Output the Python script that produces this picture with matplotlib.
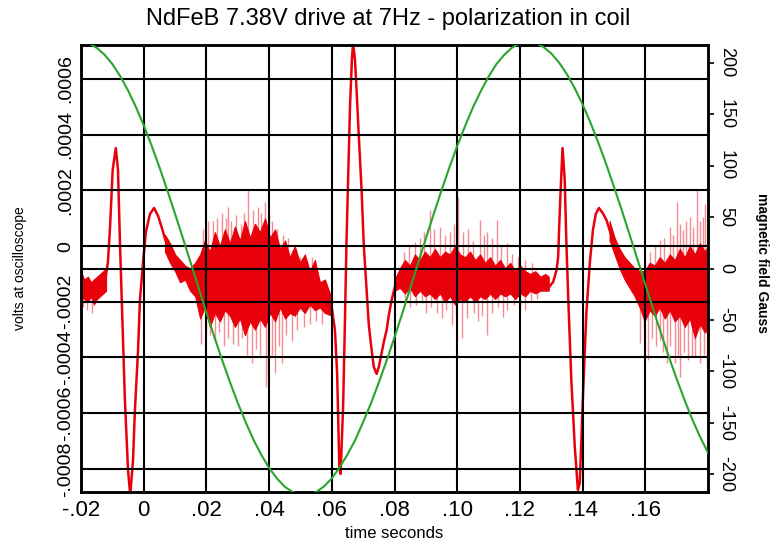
import matplotlib
matplotlib.use("Agg")
import matplotlib.pyplot as plt
from matplotlib import font_manager
import numpy as np

# ==================== DATA ====================

# red trace: coil voltage (V) vs time (s), main line
t_trace = [-0.0200, -0.0184, -0.0168, -0.0152, -0.0136, -0.0123, -0.0114, -0.0107,
           -0.0099, -0.0089, -0.0082, -0.0076, -0.0069, -0.0060, -0.0050, -0.0043,
           -0.0034, -0.0028, -0.0018, -0.0012, -0.0002, 0.0007, 0.0020, 0.0033,
           0.0046, 0.0058, 0.0071, 0.0084, 0.0100, 0.0116, 0.0135, 0.0154, 0.0173,
           0.0211, 0.0243, 0.0275, 0.0307, 0.0339, 0.0371, 0.0403, 0.0435, 0.0466,
           0.0498, 0.0530, 0.0562, 0.0588,
           0.0600, 0.0610, 0.0617, 0.0624, 0.0628, 0.0636, 0.0642, 0.0647, 0.0658,
           0.0664, 0.0668, 0.0674, 0.0679, 0.0686, 0.0695, 0.0702, 0.0711, 0.0718,
           0.0727, 0.0734, 0.0743, 0.0750, 0.0759, 0.0766, 0.0775, 0.0782, 0.0791,
           0.0801, 0.0812,
           0.0833, 0.0865, 0.0890, 0.0945, 0.0999, 0.1050, 0.1104, 0.1158, 0.1209,
           0.1263,
           0.1285, 0.1306, 0.1317, 0.1322, 0.1325, 0.1329, 0.1336, 0.1343, 0.1348,
           0.1354, 0.1364, 0.1375, 0.1385, 0.1391, 0.1401, 0.1412, 0.1423, 0.1433,
           0.1442, 0.1452, 0.1464, 0.1476, 0.1486, 0.1497, 0.1518, 0.1540, 0.1561,
           0.1582, 0.1598,
           0.1636, 0.1678, 0.1719, 0.1764, 0.1800]
v_trace = [-0.000132, -0.000165, -0.000179, -0.000158, -0.000143, -0.000122, -0.000057, 0.000076,
           0.000273, 0.000352, 0.000273, 0.000022, -0.000229, -0.000552, -0.000804, -0.000894,
           -0.000768, -0.000588, -0.000373, -0.000193, -0.000057, 0.000051, 0.000115, 0.000137,
           0.000108, 0.000065, 0.000015, -0.000021, -0.000057, -0.000086, -0.000107, -0.000122, -0.000140,
           -0.000140, -0.000122, -0.000107, -0.000115, -0.000132, -0.000107, -0.000104, -0.000115, -0.000147,
           -0.000152, -0.000154, -0.000185, -0.000210,
           -0.000222, -0.000301, -0.000456, -0.000793, -0.000818, -0.000578, -0.000265, 0.000022, 0.000499,
           0.000668, 0.000730, 0.000668, 0.000560, 0.000399, 0.000201, 0.000004, -0.000158, -0.000283,
           -0.000373, -0.000434, -0.000459, -0.000434, -0.000384, -0.000344, -0.000301, -0.000247, -0.000193,
           -0.000147, -0.000122,
           -0.000100, -0.000104, -0.000097, -0.000104, -0.000104, -0.000115, -0.000122, -0.000122, -0.000133,
           -0.000140,
           -0.000158, -0.000129, -0.000086, -0.000039, 0.000058, 0.000176, 0.000352, 0.000237, 0.000022,
           -0.000182, -0.000480, -0.000720, -0.000875, -0.000850, -0.000542, -0.000240, -0.000061, 0.000058,
           0.000115, 0.000137, 0.000119, 0.000094, 0.000058, 0.000022, -0.000043, -0.000086, -0.000122,
           -0.000165, -0.000180,
           -0.000147, -0.000147, -0.000147, -0.000165, -0.000158]

# noise bands: lower / upper edge of the dense noise, in units of 1e-4 V
noise_a_t = [-0.0200, -0.0190, -0.0178, -0.0168, -0.0159, -0.0149, -0.0139, -0.0129, -0.0120]
noise_a_lo = [-1.8, -1.9, -2.0, -1.8, -2.1, -1.9, -1.8, -1.7, -1.6]
noise_a_hi = [-0.9, -1.2, -1.1, -1.3, -1.2, -1.1, -1.0, -0.9, -0.8]

noise_b_t = [0.0068, 0.0084, 0.0100, 0.0116, 0.0132, 0.0148, 0.0164, 0.0180, 0.0195,
             0.0211, 0.0227, 0.0243, 0.0259, 0.0275, 0.0291, 0.0307, 0.0323, 0.0339,
             0.0355, 0.0371, 0.0387, 0.0403, 0.0419, 0.0435, 0.0451, 0.0466, 0.0482,
             0.0498, 0.0514, 0.0530, 0.0546, 0.0562, 0.0578, 0.0600]
noise_b_lo = [-0.2, -0.6, -0.9, -1.3, -1.2, -1.6, -1.8, -2.6, -2.2, -2.9, -2.4, -2.7,
              -2.3, -2.5, -2.9, -2.6, -3.2, -2.7, -3.0, -2.6, -2.9, -2.4, -2.7, -2.2,
              -2.6, -2.4, -2.5, -2.2, -2.4, -2.1, -2.3, -2.2, -2.4, -2.5]
noise_b_hi = [0.4, 0.1, -0.3, -0.5, -0.7, -0.8, -0.6, -0.3, 0.2, -0.2, 0.5, 0.0,
              0.6, 0.1, 0.7, 0.2, 0.9, 0.3, 0.8, 0.5, 1.0, 0.3, 0.6, -0.1,
              0.2, -0.4, 0.0, -0.6, -0.3, -0.9, -0.5, -1.3, -1.2, -1.9]

noise_d_t = [0.0801, 0.0817, 0.0833, 0.0849, 0.0865, 0.0881, 0.0897, 0.0913, 0.0929,
             0.0945, 0.0961, 0.0977, 0.0993, 0.1009, 0.1025, 0.1041, 0.1057, 0.1073,
             0.1089, 0.1105, 0.1121, 0.1137, 0.1153, 0.1169, 0.1185, 0.1201, 0.1217,
             0.1233, 0.1249, 0.1265, 0.1281, 0.1292]
noise_d_lo = [-1.6, -1.5, -1.7, -1.5, -1.8, -1.6, -1.8, -1.7, -1.9, -1.7, -2.0, -1.8,
              -2.1, -1.9, -2.0, -1.8, -2.0, -1.8, -1.9, -1.7, -1.9, -1.7, -1.8, -1.7,
              -1.9, -1.7, -1.8, -1.6, -1.7, -1.6, -1.6, -1.6]
noise_d_hi = [-1.2, -0.8, -0.5, -0.7, -0.3, -0.5, -0.2, -0.4, -0.1, -0.4, -0.2, -0.3,
              0.0, -0.3, -0.4, -0.2, -0.5, -0.3, -0.6, -0.4, -0.7, -0.5, -0.8, -0.6,
              -0.9, -0.7, -0.9, -1.0, -0.9, -1.1, -1.0, -1.1]

noise_f_t = [0.1486, 0.1502, 0.1518, 0.1534, 0.1550, 0.1566, 0.1582, 0.1598, 0.1614,
             0.1630, 0.1646, 0.1662, 0.1678, 0.1694, 0.1710, 0.1726, 0.1742, 0.1758,
             0.1774, 0.1790, 0.1800]
noise_f_lo = [0.2, -0.3, -0.8, -1.2, -1.5, -1.8, -2.2, -2.7, -2.3, -2.5, -2.2, -2.6,
              -2.3, -2.7, -2.5, -2.9, -2.6, -3.3, -2.8, -3.1, -3.0]
noise_f_hi = [0.9, 0.3, -0.1, -0.4, -0.6, -0.8, -0.9, -0.9, -0.6, -0.7, -0.4, -0.6,
              -0.3, -0.5, -0.1, -0.4, 0.0, -0.3, 0.1, -0.2, 0.0]

# single noise spikes: time (s) and tip voltage (1e-4 V)
spike_t = [-0.0195, -0.0180, -0.0165,
           0.0190, 0.0205, 0.0220, 0.0235, 0.0250, 0.0262, 0.0269, 0.0280, 0.0296,
           0.0310, 0.0320, 0.0332, 0.0350, 0.0364, 0.0375, 0.0387, 0.0400, 0.0410,
           0.0425, 0.0445, 0.0460, 0.0482, 0.0500, 0.0520, 0.0536, 0.0550,
           0.0183, 0.0198, 0.0213, 0.0227, 0.0240, 0.0255, 0.0270, 0.0285, 0.0301,
           0.0315, 0.0330, 0.0345, 0.0358, 0.0370, 0.0389, 0.0396, 0.0410, 0.0419,
           0.0430, 0.0441, 0.0455, 0.0473, 0.0490, 0.0510, 0.0530, 0.0550, 0.0568,
           0.0830, 0.0845, 0.0865, 0.0880, 0.0895, 0.0913, 0.0925, 0.0945, 0.0960,
           0.0976, 0.0990, 0.1002, 0.1020, 0.1035, 0.1050, 0.1072, 0.1085, 0.1094,
           0.1110, 0.1126, 0.1140, 0.1158, 0.1175, 0.1195, 0.1215, 0.1240,
           0.0835, 0.0850, 0.0870, 0.0887, 0.0900, 0.0915, 0.0935, 0.0950, 0.0965,
           0.0983, 0.0995, 0.1015, 0.1030, 0.1052, 0.1065, 0.1080, 0.1096, 0.1110,
           0.1130, 0.1145, 0.1160, 0.1180, 0.1200, 0.1215, 0.1235, 0.1255,
           0.1600, 0.1615, 0.1630, 0.1646, 0.1660, 0.1678, 0.1688, 0.1700, 0.1712,
           0.1719, 0.1730, 0.1742, 0.1752, 0.1764, 0.1775, 0.1783, 0.1792,
           0.1582, 0.1595, 0.1608, 0.1620, 0.1635, 0.1648, 0.1658, 0.1668, 0.1680,
           0.1694, 0.1703, 0.1710, 0.1722, 0.1735, 0.1748, 0.1760, 0.1774, 0.1788, 0.1797]
spike_v = [-2.2, -2.3, -2.4,
           0.6, 0.9, 0.9, 1.0, 1.2, 1.0, 1.4, 0.9, 1.1,
           0.8, 1.2, 2.0, 1.3, 1.4, 1.2, 1.6, 1.1, 0.9,
           0.6, 0.4, 0.3, -0.25, -0.4, -0.6, -0.4, -0.8,
           -3.5, -3.0, -3.2, -3.4, -3.1, -3.6, -3.3, -3.5, -3.6,
           -3.3, -3.9, -4.2, -3.7, -3.9, -5.05, -4.56, -3.9, -4.56,
           -3.6, -4.2, -3.2, -3.4, -3.0, -2.9, -2.8, -2.7, -2.8,
           -0.2, 0.0, 0.15, 0.3, 0.5, 1.3, 0.6, 0.7, 0.4,
           0.5, 0.8, 1.76, 0.5, 0.6, 0.2, 0.94, 0.4, 0.5,
           0.3, 0.94, 0.0, 0.1, -0.3, -0.4, -0.5, -0.6,
           -2.0, -2.2, -2.1, -2.04, -2.4, -2.2, -2.4, -2.6, -2.3,
           -2.83, -2.5, -3.3, -2.6, -2.4, -2.7, -2.5, -3.2, -2.4,
           -2.2, -2.55, -2.3, -2.1, -2.3, -2.3, -2.0, -1.9,
           -0.5, -0.2, 0.0, 0.22, 0.3, 0.69, 0.4, 1.58, 0.8,
           0.58, 0.9, 1.04, 0.7, 2.01, 0.9, 1.04, 1.5,
           -3.48, -3.0, -4.09, -3.3, -3.6, -3.37, -3.8, -4.2, -3.6,
           -4.2, -3.9, -4.7, -3.8, -4.09, -3.9, -4.0, -4.2, -3.9, -4.3]

# green trace: magnetic field (Gauss) vs time (s)
t_field = [-0.0200, -0.0175, -0.0150, -0.0125, -0.0100, -0.0075, -0.0050, -0.0025,
           0.0000, 0.0025, 0.0050, 0.0075, 0.0100, 0.0125, 0.0150, 0.0175,
           0.0200, 0.0225, 0.0250, 0.0275, 0.0300, 0.0325, 0.0350, 0.0375,
           0.0400, 0.0425, 0.0450, 0.0475, 0.0500, 0.0525, 0.0550, 0.0575,
           0.0600, 0.0625, 0.0650, 0.0675, 0.0700, 0.0725, 0.0750, 0.0775,
           0.0800, 0.0825, 0.0850, 0.0875, 0.0900, 0.0925, 0.0950, 0.0975,
           0.1000, 0.1025, 0.1050, 0.1075, 0.1100, 0.1125, 0.1150, 0.1175,
           0.1200, 0.1225, 0.1250, 0.1275, 0.1300, 0.1325, 0.1350, 0.1375,
           0.1400, 0.1425, 0.1450, 0.1475, 0.1500, 0.1525, 0.1550, 0.1575,
           0.1600, 0.1625, 0.1650, 0.1675, 0.1700, 0.1725, 0.1750, 0.1775, 0.1800]
b_field = [220.0, 218.5, 214.3, 207.6, 198.5, 186.8, 172.9, 156.9,
           139.1, 119.5, 98.5, 76.2, 53.0, 29.5, 5.4, -18.7,
           -42.7, -66.1, -88.7, -110.2, -130.4, -149.1, -166.1, -180.9,
           -193.6, -203.8, -211.9, -217.0, -219.6, -219.6, -217.1, -211.6,
           -203.8, -193.1, -180.6, -166.3, -149.1, -130.8, -110.7, -89.3,
           -66.8, -43.5, -19.3, 4.9, 29.1, 52.9, 75.8, 98.1,
           118.9, 138.2, 156.3, 172.1, 186.2, 198.4, 207.4, 214.5,
           218.6, 220.0, 218.9, 215.1, 208.8, 199.9, 188.6, 175.0,
           159.3, 141.7, 122.3, 101.5, 79.4, 56.5, 32.8, 8.8,
           -15.4, -39.4, -62.7, -85.6, -107.1, -127.5, -146.6, -163.6, -178.8]

x_ticks = [-0.02, 0.0, 0.02, 0.04, 0.06, 0.08, 0.10, 0.12, 0.14, 0.16]
x_labels = ["-.02", "0", ".02", ".04", ".06", ".08", ".10", ".12", ".14", ".16"]
v_ticks = [-0.0008, -0.0006, -0.0004, -0.0002, 0.0, 0.0002, 0.0004, 0.0006]
v_labels = ["-.0008", "-.0006", "-.0004", "-.0002", "0", ".0002", ".0004", ".0006"]
b_ticks = [-200, -150, -100, -50, 0, 50, 100, 150, 200]
b_labels = ["-200", "-150", "-100", "-50", "0", "50", "100", "150", "200"]

NOISE_UNIT = 1e-4   # noise tables are in units of 1e-4 V


# ==================== FONT ====================

def pick_font():
    """Use a narrow font if one is installed"""
    for name in ["Liberation Sans Narrow", "Liberation Sans"]:
        try:
            font_manager.findfont(name, fallback_to_default=False)
            return name
        except ValueError:
            pass
    return "DejaVu Sans"


plt.rcParams['font.family'] = [pick_font(), 'DejaVu Sans']

RED = '#e8000b'
GREEN = '#2aa52a'

# ==================== PLOT ====================

fig = plt.figure(figsize=(7.77, 5.42), dpi=100)
ax = fig.add_axes([81 / 777, 50 / 542, 627 / 777, 447 / 542])
ax2 = ax.twinx()

# noise bands of the red trace
for nt, lo, hi in [(noise_a_t, noise_a_lo, noise_a_hi),
                   (noise_b_t, noise_b_lo, noise_b_hi),
                   (noise_d_t, noise_d_lo, noise_d_hi),
                   (noise_f_t, noise_f_lo, noise_f_hi)]:
    ax.fill_between(nt, np.array(lo) * NOISE_UNIT, np.array(hi) * NOISE_UNIT,
                    color=RED, linewidth=0.8, edgecolor=RED, zorder=1.6)

# spikes: from the main line out to the tip
tips = np.array(spike_v) * NOISE_UNIT
base = np.interp(spike_t, t_trace, v_trace)
ax.vlines(spike_t, base, tips, color=RED, linewidth=1.0, alpha=0.45, zorder=1.5)

ax.plot(t_trace, v_trace, color=RED, linewidth=1.8, zorder=1.8, solid_joinstyle='round')

ax.set_xlim(-0.02, 0.18)
ax.set_ylim(-0.000883, 0.000722)
ax.set_xticks(x_ticks)
ax.set_xticklabels(x_labels)
ax.set_yticks(v_ticks)
ax.set_yticklabels(v_labels, rotation=90, va='center')
ax.tick_params(axis='x', length=0, pad=6, labelsize=16)
ax.tick_params(axis='y', length=0, pad=5, labelsize=14)
ax.set_axisbelow(False)
ax.grid(True, color='black', linewidth=1.5)

# green field on the right axis
ax2.plot(t_field, b_field, color=GREEN, linewidth=1.5, zorder=3)
ax2.axhline(0, color='black', linewidth=1.5, zorder=2)
ax2.set_ylim(-217, 217)
ax2.set_yticks(b_ticks)
ax2.set_yticklabels(b_labels, rotation=-90, va='center')
ax2.tick_params(axis='y', length=4, width=1.2, pad=3, labelsize=13)

for a in (ax, ax2):
    for sp in a.spines.values():
        sp.set_linewidth(1.8)
        sp.set_color('black')

fig.text(0.5, 1 - 19 / 542, "NdFeB 7.38V drive at 7Hz - polarization in coil",
         ha='center', va='center', fontsize=17)
fig.text(394 / 777, 1 - 534 / 542, "time seconds", ha='center', va='center', fontsize=12)
fig.text(20 / 777, 1 - 268 / 542, "volts at oscilloscope", ha='center', va='center',
         rotation=90, fontsize=10)
fig.text(762 / 777, 1 - 263 / 542, "magnetic field Gauss", ha='center', va='center',
         rotation=-90, fontsize=10, fontweight='bold')

fig.savefig("out.png", dpi=100)
